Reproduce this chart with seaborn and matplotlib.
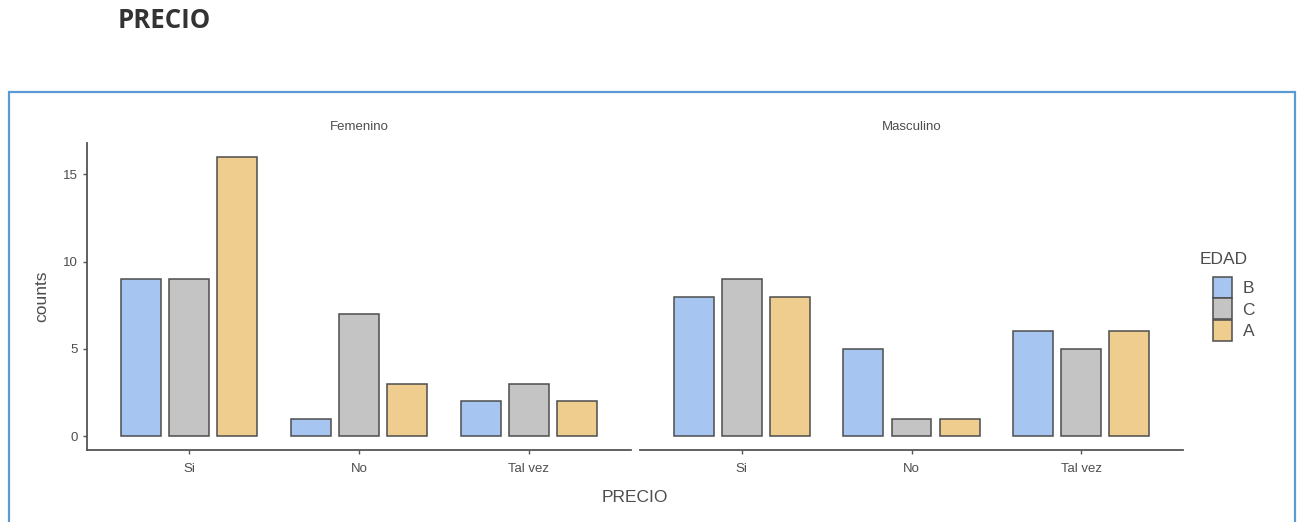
import numpy as np
import pandas as pd
import matplotlib
matplotlib.use("Agg")
import matplotlib.pyplot as plt
from matplotlib.patches import Rectangle
import seaborn as sns

# data
precio = ["Si", "No", "Tal vez"]
edad = ["B", "C", "A"]
femenino = {"B": [9, 1, 2], "C": [9, 7, 3], "A": [16, 3, 2]}
masculino = {"B": [8, 5, 6], "C": [9, 1, 5], "A": [8, 1, 6]}
colores = ["#A6C5F0", "#C4C4C4", "#EFCD8E"]

rows = []
for sexo, d in [("Femenino", femenino), ("Masculino", masculino)]:
    for e in edad:
        for p, v in zip(precio, d[e]):
            rows.append({"SEXO": sexo, "PRECIO": p, "EDAD": e, "counts": v})
df = pd.DataFrame(rows)

sns.set_style("white")
plt.rcParams["font.family"] = ["Liberation Sans", "DejaVu Sans"]

W, H = 1300, 522
fig = plt.figure(figsize=(W / 100, H / 100), dpi=100)

# blue frame around the chart
fig.patches.append(Rectangle((9 / W, -0.1), 1286 / W, 0.1 + (H - 92) / H,
                             transform=fig.transFigure, fill=False,
                             edgecolor="#5B9BD5", linewidth=1.6))
fig.text(118 / W, 1 - 21 / H, "PRECIO", fontsize=18.5, fontweight="bold",
         color="#333333", va="center", ha="left",
         family=["Open Sans", "DejaVu Sans"])

axc = "#555555"
paneles = [("Femenino", 87, 631), ("Masculino", 640, 1183)]
axes = []
for i, (sexo, x0, x1) in enumerate(paneles):
    ax = fig.add_axes([x0 / W, (H - 450) / H, (x1 - x0) / W, 307 / H])
    sub = df[df["SEXO"] == sexo]
    sns.barplot(data=sub, x="PRECIO", y="counts", hue="EDAD", order=precio,
                hue_order=edad, palette=colores, saturation=1, width=0.85,
                gap=0.17, edgecolor="#4D4D4D", linewidth=1.1, ax=ax,
                legend=(i == 1))
    ax.set_xlim(-0.6, 2.6)
    ax.set_ylim(-0.8, 16.8)
    ax.set_yticks([0, 5, 10, 15])
    ax.set_xlabel("")
    ax.set_ylabel("")
    for s in ["top", "right"]:
        ax.spines[s].set_visible(False)
    ax.spines["bottom"].set_color(axc)
    ax.spines["bottom"].set_linewidth(1.3)
    ax.spines["left"].set_color(axc)
    ax.spines["left"].set_linewidth(1.3)
    ax.tick_params(axis="x", length=3, width=1, color=axc, labelsize=9.5,
                   labelcolor="#4D4D4D", pad=6, bottom=True)
    if i == 0:
        ax.tick_params(axis="y", length=3, width=1, color=axc, labelsize=9.5,
                       labelcolor="#4D4D4D", left=True)
        ax.set_ylabel("counts", fontsize=12.5, color="#4D4D4D", labelpad=10)
    else:
        ax.spines["left"].set_visible(False)
        ax.set_yticks([])
    ax.text(0.5, 1 + 16 / 307, sexo, transform=ax.transAxes, ha="center",
            va="center", fontsize=9.5, color="#4D4D4D")
    axes.append(ax)

fig.text(635 / W, 1 - 497 / H, "PRECIO", fontsize=12.5, color="#4D4D4D",
         ha="center", va="center")

# legend: title as separate text, keys stacked below
leg = axes[1].get_legend()
handles = leg.legend_handles
leg.remove()
fig.text(1200 / W, 1 - 259 / H, "EDAD", fontsize=12.5, color="#4D4D4D",
         ha="left", va="center")
fig.legend(handles, edad, loc="upper left",
           bbox_to_anchor=(1213 / W, 1 - 277 / H), frameon=False,
           fontsize=12.5, handlelength=1.1, handleheight=1.45,
           labelspacing=0.05, handletextpad=0.6, borderpad=0,
           borderaxespad=0, labelcolor="#4D4D4D")

fig.savefig("out.png", dpi=100)
